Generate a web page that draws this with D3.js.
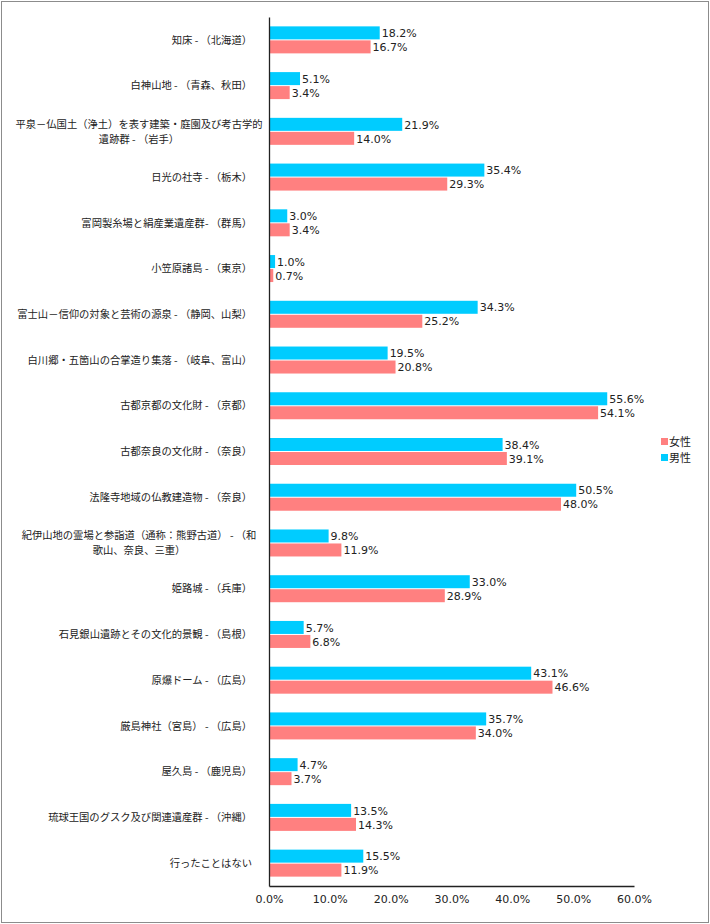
<!DOCTYPE html>
<html><head><meta charset="utf-8">
<script src="https://cdn.jsdelivr.net/npm/d3@7"></script>
<style>body{margin:0;background:#fff}</style>
</head><body>
<svg id="c" width="710" height="924"></svg>
<script>
const categories = [
  ["知床 - （北海道）"],
  ["白神山地 - （青森、秋田）"],
  ["平泉－仏国土（浄土）を表す建築・庭園及び考古学的","遺跡群 - （岩手）"],
  ["日光の社寺 - （栃木）"],
  ["富岡製糸場と絹産業遺産群- （群馬）"],
  ["小笠原諸島 - （東京）"],
  ["富士山－信仰の対象と芸術の源泉 - （静岡、山梨）"],
  ["白川郷・五箇山の合掌造り集落 - （岐阜、富山）"],
  ["古都京都の文化財 - （京都）"],
  ["古都奈良の文化財 - （奈良）"],
  ["法隆寺地域の仏教建造物 - （奈良）"],
  ["紀伊山地の霊場と参詣道（通称：熊野古道） - （和","歌山、奈良、三重）"],
  ["姫路城 - （兵庫）"],
  ["石見銀山遺跡とその文化的景観 - （島根）"],
  ["原爆ドーム - （広島）"],
  ["厳島神社（宮島） - （広島）"],
  ["屋久島 - （鹿児島）"],
  ["琉球王国のグスク及び関連遺産群 - （沖縄）"],
  ["行ったことはない"]
];
const male   = [18.2, 5.1, 21.9, 35.4, 3.0, 1.0, 34.3, 19.5, 55.6, 38.4, 50.5, 9.8, 33.0, 5.7, 43.1, 35.7, 4.7, 13.5, 15.5];
const female = [16.7, 3.4, 14.0, 29.3, 3.4, 0.7, 25.2, 20.8, 54.1, 39.1, 48.0, 11.9, 28.9, 6.8, 46.6, 34.0, 3.7, 14.3, 11.9];
const seriesNames = ["男性", "女性"];
const xTicks = [0, 10, 20, 30, 40, 50, 60];

const BLUE = "#00CCFF", PINK = "#FF8080";
const svg = d3.select("#c");
svg.append("rect").attr("x",1.5).attr("y",1.5).attr("width",707).attr("height",921)
  .attr("fill","#fff").attr("stroke","#8c8c8c").attr("stroke-width",1);

const mLeft = 269, mRight = 634, mTop = 17, mBottom = 886;
const x = d3.scaleLinear().domain([0, 60]).range([mLeft, mRight]);
const y = d3.scaleBand().domain(d3.range(categories.length)).range([mTop, mBottom]).paddingInner(0).paddingOuter(0);
const bh = 13.5;
const inner = (y.bandwidth() - 2*bh) / 2;

const numFont = "'DejaVu Sans', Verdana, sans-serif";
const jpFont = "'Noto Sans CJK JP', sans-serif";

const g = svg.append("g");
const data = categories.map((c,i)=>({i, m: male[i], f: female[i]}));

g.selectAll("rect.m").data(data).join("rect").attr("class","m")
  .attr("x", x(0)).attr("y", d => y(d.i) + inner)
  .attr("width", d => x(d.m) - x(0)).attr("height", bh - 0.5).attr("fill", BLUE);
g.selectAll("rect.f").data(data).join("rect").attr("class","f")
  .attr("x", x(0)).attr("y", d => y(d.i) + inner + bh + 0.5)
  .attr("width", d => x(d.f) - x(0)).attr("height", bh - 0.5).attr("fill", PINK);

g.selectAll("text.m").data(data).join("text").attr("class","m")
  .attr("x", d => x(d.m) + 2).attr("y", d => y(d.i) + inner + bh/2)
  .attr("dy","0.36em").attr("font-family", numFont).attr("font-size", 11).attr("fill","#222")
  .text(d => d.m.toFixed(1) + "%");
g.selectAll("text.f").data(data).join("text").attr("class","f")
  .attr("x", d => x(d.f) + 2).attr("y", d => y(d.i) + inner + bh*1.5 + 0.5)
  .attr("dy","0.36em").attr("font-family", numFont).attr("font-size", 11).attr("fill","#222")
  .text(d => d.f.toFixed(1) + "%");

categories.forEach((c,i)=>{
  const cy = y(i) + y.bandwidth()/2;
  if (c.length === 1) {
    svg.append("text").attr("x", 252).attr("y", cy).attr("dy","0.36em")
      .attr("text-anchor","end").attr("font-family", jpFont).attr("font-size", 10.3).attr("fill","#222").text(c[0]);
  } else {
    c.forEach((line,k)=>{
      svg.append("text").attr("x", 139).attr("y", cy + (k - 0.5)*15).attr("dy","0.36em")
        .attr("text-anchor","middle").attr("font-family", jpFont).attr("font-size", 10.3).attr("fill","#222").text(line);
    });
  }
});

const xAxis = svg.append("g").attr("transform", `translate(0,${mBottom})`)
  .call(d3.axisBottom(x).tickValues(xTicks).tickSize(0).tickPadding(9).tickFormat(d => d.toFixed(1) + "%"));
xAxis.select(".domain").attr("stroke","#222").attr("stroke-width",1.3);
xAxis.selectAll("text").attr("font-family", numFont).attr("font-size", 11).attr("fill","#222");

const yAxis = svg.append("g").attr("transform", `translate(${mLeft},0)`)
  .call(d3.axisLeft(y).tickSize(0).tickFormat(""));
yAxis.select(".domain").attr("stroke","#222").attr("stroke-width",1.3);

const legend = [{n: seriesNames[1], c: PINK}, {n: seriesNames[0], c: BLUE}];
legend.forEach((l,k)=>{
  const ly = 442 + k*16;
  svg.append("rect").attr("x", 661).attr("y", ly - 4).attr("width", 7).attr("height", 7).attr("fill", l.c);
  svg.append("text").attr("x", 669).attr("y", ly).attr("dy","0.36em")
    .attr("font-family", jpFont).attr("font-size", 11).attr("fill","#222").text(l.n);
});
</script>
</body></html>
